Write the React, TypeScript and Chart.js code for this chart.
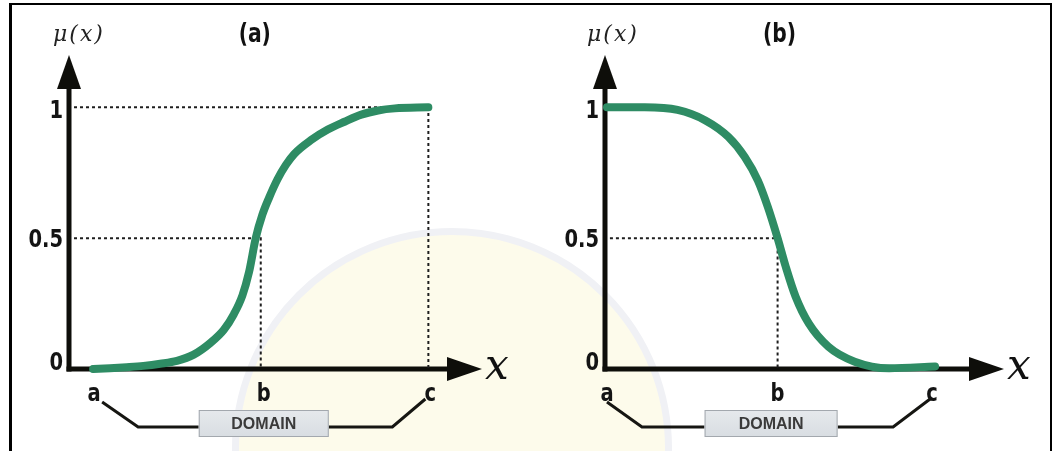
import React, { useEffect, useRef } from 'react';
import { Chart, registerables } from 'chart.js';

Chart.register(...registerables);

// Tick names along the x axis and the membership grades on the y axis
const tickNamesX = ['a', 'b', 'c'];
const ticksXA = [0, 5, 10];
const ticksXB = [0, 5.2, 10];
const tickValuesY = [0, 0.5, 1];
const tickLabelsY = ['0', '0.5', '1'];

// (a) S-shaped growth membership curve
const growthX = [0, 0.5, 1, 1.5, 2, 2.5, 3, 3.5, 3.9, 4.2, 4.45, 4.65, 4.85, 5.05, 5.25, 5.5, 5.75, 6, 6.5, 7, 7.5, 8, 8.5, 9, 10];
const growthY = [0, 0.003, 0.007, 0.012, 0.02, 0.031, 0.055, 0.1, 0.15, 0.21, 0.28, 0.37, 0.5, 0.59, 0.655, 0.725, 0.78, 0.822, 0.875, 0.915, 0.945, 0.972, 0.988, 0.996, 1];

// (b) S-shaped decline membership curve
const declineX = [0, 1.15, 2.15, 3, 3.7, 4.2, 4.6, 4.9, 5.2, 5.45, 5.75, 6.15, 6.75, 7.55, 8.6, 10];
const declineY = [1, 1, 0.99, 0.95, 0.887, 0.81, 0.72, 0.62, 0.5, 0.39, 0.276, 0.174, 0.085, 0.028, 0.003, 0.01];

const BOLD_FAMILY = '"DejaVu Sans", sans-serif';
const SERIF = '"DejaVu Serif", "Liberation Serif", serif';
const GREEN = '#2e8c64';
const INK = '#0e0e0a';
const NARROW = 0.78;

// vertical nudges of the y tick labels, in px, for 0 / 0.5 / 1
const yLabelNudge = [-6, 2, 4];

type Panel = {
  title: string;
  ticksX: number[];
  xMin: number;
  xMax: number;
  curveX: number[];
  curveY: number[];
  fullGuides: boolean;
  yAxisWidth: number;
  padRight: number;
  titleDx: number;
  muDx: number;
  labelDx: number[];
  bracket: { a0: number; a1: number; boxL: number; boxR: number; c1: number; c0: number };
};

const panels: Panel[] = [
  {
    title: '(a)',
    ticksX: ticksXA,
    xMin: -0.72,
    xMax: 11.6,
    curveX: growthX,
    curveY: growthY,
    fullGuides: true,
    yAxisWidth: 69,
    padRight: 44,
    titleDx: -6,
    muDx: 10,
    labelDx: [1, 3, 2],
    bracket: { a0: 9, a1: 45, boxL: -62, boxR: 68, c1: -36, c0: -3 },
  },
  {
    title: '(b)',
    ticksX: ticksXB,
    xMin: -0.06,
    xMax: 12.1,
    curveX: declineX,
    curveY: declineY,
    fullGuides: false,
    yAxisWidth: 79,
    padRight: 48,
    titleDx: 2,
    muDx: 8,
    labelDx: [0, 0, -3],
    bracket: { a0: 0, a1: 35, boxL: -73, boxR: 60, c1: -42, c0: -5 },
  },
];

const W = 526;
const H = 451;
const TOP = 55;
const BOTTOM = 369;

function narrowText(ctx: CanvasRenderingContext2D, text: string, x: number, y: number, align: 'left' | 'center' | 'right') {
  ctx.save();
  ctx.translate(x, y);
  ctx.scale(NARROW, 1);
  ctx.textAlign = align;
  ctx.fillText(text, 0, 0);
  ctx.restore();
}

const decor = {
  id: 'decor',
  beforeDatasetsDraw(chart: any) {
    const { ctx, chartArea } = chart;
    const { left, right, top, bottom } = chartArea;
    ctx.save();
    ctx.strokeStyle = INK;
    ctx.fillStyle = INK;
    ctx.lineWidth = 5;
    // vertical axis with arrow head
    ctx.beginPath();
    ctx.moveTo(left, bottom + 2.5);
    ctx.lineTo(left, top + 30);
    ctx.stroke();
    ctx.beginPath();
    ctx.moveTo(left, top);
    ctx.lineTo(left - 12, top + 34);
    ctx.lineTo(left + 12, top + 34);
    ctx.closePath();
    ctx.fill();
    // horizontal axis with arrow head
    ctx.beginPath();
    ctx.moveTo(left - 2.5, bottom);
    ctx.lineTo(right - 30, bottom);
    ctx.stroke();
    ctx.beginPath();
    ctx.moveTo(right, bottom);
    ctx.lineTo(right - 35, bottom - 12);
    ctx.lineTo(right - 35, bottom + 12);
    ctx.closePath();
    ctx.fill();
    ctx.restore();
  },
  afterDraw(chart: any, _args: any, opts: any) {
    const p: Panel = opts.panel;
    const { ctx, chartArea, scales } = chart;
    const { left, right, bottom } = chartArea;
    const xs = scales.x;
    const ys = scales.y;
    const xa = xs.getPixelForValue(p.ticksX[0]);
    const xb = xs.getPixelForValue(p.ticksX[1]);
    const xc = xs.getPixelForValue(p.ticksX[2]);
    ctx.save();

    // tick labels, placed from the scales
    ctx.fillStyle = '#141414';
    ctx.textBaseline = 'middle';
    ctx.font = `bold 25px ${BOLD_FAMILY}`;
    tickValuesY.forEach((v, i) => {
      narrowText(ctx, tickLabelsY[i], left - 6, ys.getPixelForValue(v) + yLabelNudge[i], 'right');
    });
    ctx.textBaseline = 'alphabetic';
    ctx.font = `bold 25px ${BOLD_FAMILY}`;
    p.ticksX.forEach((v, i) => {
      narrowText(ctx, tickNamesX[i], xs.getPixelForValue(v) + p.labelDx[i], bottom + 32, 'center');
    });

    // panel title
    ctx.textBaseline = 'middle';
    ctx.font = `bold 26px ${BOLD_FAMILY}`;
    ctx.fillStyle = '#111';
    narrowText(ctx, p.title, xb + p.titleDx, 35, 'center');

    // axis names
    ctx.fillStyle = '#222';
    ctx.textAlign = 'center';
    ctx.font = `italic 22px ${SERIF}`;
    try { (ctx as any).letterSpacing = '2px'; } catch (e) {}
    ctx.fillText('μ(x)', left + p.muDx, 35);
    try { (ctx as any).letterSpacing = '0px'; } catch (e) {}
    ctx.fillStyle = '#111';
    ctx.font = `italic 42px ${SERIF}`;
    ctx.textAlign = 'left';
    ctx.fillText('x', right + 3, bottom - 1);

    // domain bracket
    const b = p.bracket;
    const yLow = bottom + 58;
    const boxTop = bottom + 41;
    const boxH = 27;
    ctx.strokeStyle = '#161612';
    ctx.lineWidth = 3;
    ctx.lineJoin = 'miter';
    ctx.beginPath();
    ctx.moveTo(xa + b.a0, bottom + 33);
    ctx.lineTo(xa + b.a1, yLow);
    ctx.lineTo(xb + b.boxL, yLow);
    ctx.stroke();
    ctx.beginPath();
    ctx.moveTo(xb + b.boxR, yLow);
    ctx.lineTo(xc + b.c1, yLow);
    ctx.lineTo(xc + b.c0, bottom + 30);
    ctx.stroke();

    const grad = ctx.createLinearGradient(0, boxTop, 0, boxTop + boxH);
    grad.addColorStop(0, '#e6e9ec');
    grad.addColorStop(1, '#d8dde2');
    ctx.fillStyle = grad;
    ctx.fillRect(xb + b.boxL, boxTop, b.boxR - b.boxL, boxH);
    ctx.strokeStyle = '#a3a8ae';
    ctx.lineWidth = 1;
    ctx.strokeRect(xb + b.boxL + 0.5, boxTop + 0.5, b.boxR - b.boxL - 1, boxH - 1);
    ctx.fillStyle = '#3a3a3a';
    ctx.font = 'bold 16px "Liberation Sans", Arial, sans-serif';
    ctx.textAlign = 'center';
    ctx.textBaseline = 'middle';
    ctx.fillText('DOMAIN', xb + (b.boxL + b.boxR) / 2, boxTop + boxH / 2 + 1);

    ctx.restore();
  },
};

function buildConfig(p: Panel): any {
  const curve = p.curveX.map((x, i) => ({ x, y: p.curveY[i] }));
  const guides: any[] = [];
  const xbVal = p.ticksX[1];
  const xcVal = p.ticksX[2];
  const guideStyle = {
    type: 'line',
    borderColor: '#1e1e1e',
    borderWidth: 2,
    borderDash: [3, 3],
    pointRadius: 0,
    tension: 0,
    clip: false,
    order: 2,
  };
  if (p.fullGuides) {
    guides.push({
      ...guideStyle,
      data: [
        { x: p.xMin + 0.15, y: tickValuesY[2] },
        { x: xcVal, y: tickValuesY[2] },
        { x: xcVal, y: tickValuesY[0] },
      ],
    });
  }
  guides.push({
    ...guideStyle,
    data: [
      { x: p.xMin + 0.15, y: tickValuesY[1] },
      { x: xbVal, y: tickValuesY[1] },
      { x: xbVal, y: tickValuesY[0] },
    ],
  });

  return {
    type: 'line',
    data: {
      datasets: [
        {
          data: curve,
          borderColor: GREEN,
          borderWidth: 8,
          borderCapStyle: 'round',
          borderJoinStyle: 'round',
          pointRadius: 0,
          cubicInterpolationMode: 'monotone',
          clip: false,
          order: 0,
        },
        ...guides,
      ],
    },
    options: {
      responsive: false,
      animation: false,
      events: [],
      layout: { padding: { top: TOP, right: p.padRight, bottom: 0, left: 0 } },
      plugins: {
        legend: { display: false },
        title: { display: false },
        tooltip: { enabled: false },
        decor: { panel: p },
      },
      scales: {
        x: {
          type: 'linear',
          min: p.xMin,
          max: p.xMax,
          grid: { display: false, drawTicks: false },
          border: { display: false },
          ticks: { display: false },
          afterBuildTicks: (s: any) => {
            s.ticks = p.ticksX.map((v) => ({ value: v }));
          },
          afterFit: (s: any) => {
            s.height = H - BOTTOM;
          },
        },
        y: {
          type: 'linear',
          min: 0,
          max: 1.2,
          grid: { display: false, drawTicks: false },
          border: { display: false },
          ticks: { display: false },
          afterBuildTicks: (s: any) => {
            s.ticks = tickValuesY.map((v) => ({ value: v }));
          },
          afterFit: (s: any) => {
            s.width = p.yAxisWidth;
          },
        },
      },
    },
    plugins: [decor],
  };
}

function PanelChart({ panel, left }: { panel: Panel; left: number }) {
  const ref = useRef<HTMLCanvasElement | null>(null);
  useEffect(() => {
    if (!ref.current) return;
    const chart = new Chart(ref.current, buildConfig(panel));
    return () => chart.destroy();
  }, [panel]);
  return (
    <canvas
      ref={ref}
      width={W}
      height={H}
      style={{ position: 'absolute', left, top: 0, width: W, height: H }}
    />
  );
}

export default function App() {
  return (
    <div
      style={{
        position: 'fixed',
        left: 0,
        top: 0,
        width: 1052,
        height: 451,
        overflow: 'hidden',
        background: '#ffffff',
      }}
    >
      {/* faint seal in the background */}
      <div
        style={{
          position: 'absolute',
          left: 232,
          top: 228,
          width: 440,
          height: 440,
          borderRadius: '50%',
          background: '#fdfbeb',
          border: '7px solid #f0f1f5',
          boxSizing: 'border-box',
        }}
      />
      {/* frame */}
      <div
        style={{
          position: 'absolute',
          left: 9,
          top: 3,
          width: 1043,
          height: 460,
          borderTop: '2px solid #000',
          borderLeft: '3px solid #000',
          borderRight: '2px solid #000',
          boxSizing: 'border-box',
        }}
      />
      <PanelChart panel={panels[0]} left={0} />
      <PanelChart panel={panels[1]} left={W} />
    </div>
  );
}
